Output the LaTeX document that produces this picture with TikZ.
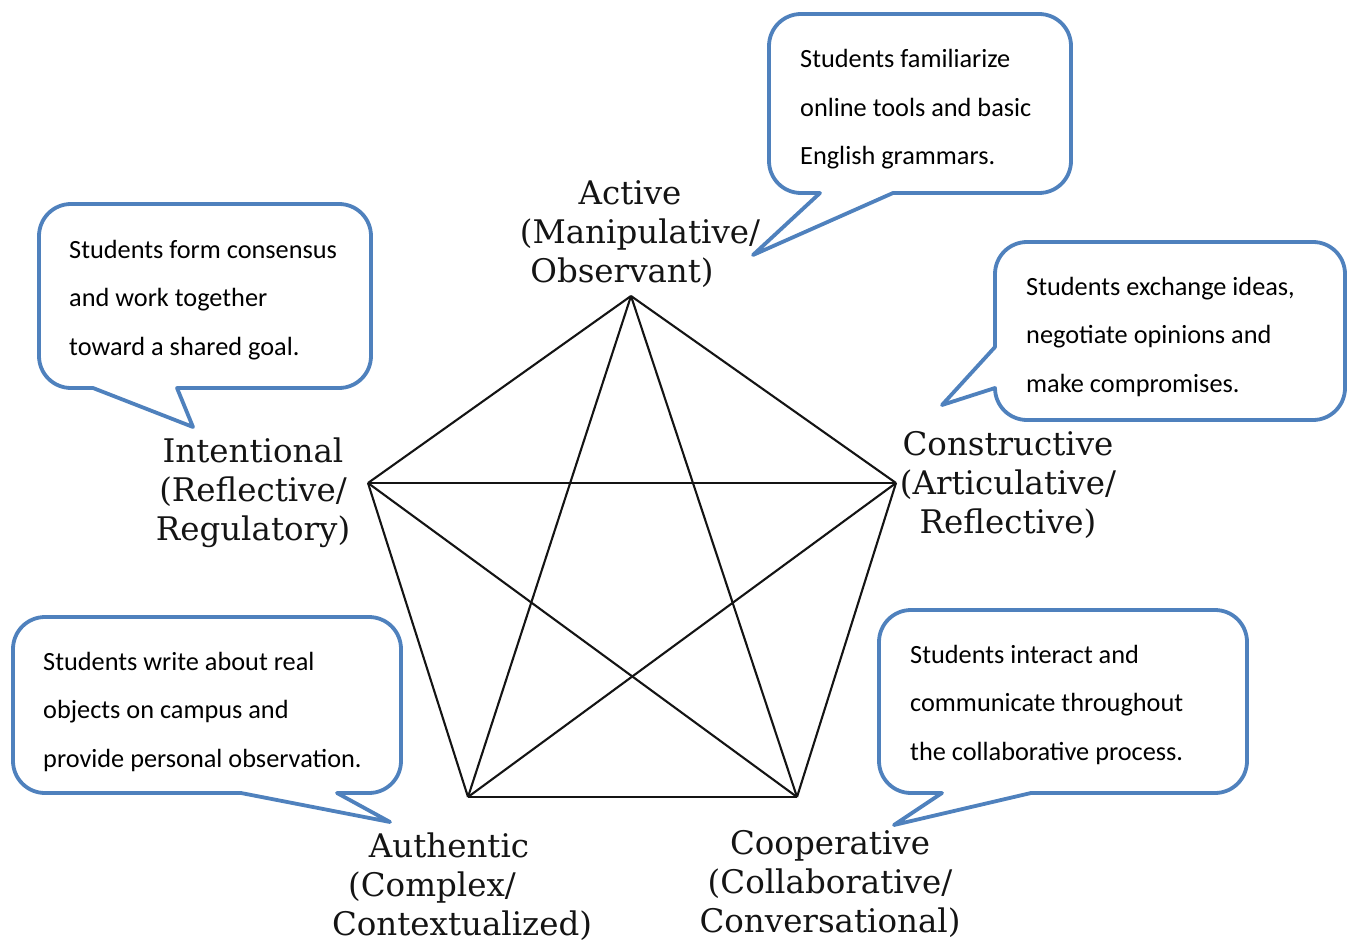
\documentclass[tikz,border=0pt]{standalone}
\usepackage{fontspec}
\setmainfont{Carlito}
\newfontfamily\slabfont{DejaVu Serif}
\definecolor{bubbleblue}{RGB}{79,129,189}
\begin{document}
\begin{tikzpicture}[x=1pt,y=-1pt,
  bubble/.style={draw=bubbleblue, line width=3.8pt, fill=white, line join=round},
  % multi-line nodes: the base anchor sits on the last line
  note/.style={anchor=base west, align=left, inner sep=0pt,
    font=\fontsize{26.3}{48.5}\selectfont},
  vlabel/.style={anchor=base, align=center, inner sep=0pt, text=black!92,
    font=\slabfont\fontsize{32.5}{39}\selectfont},
  link/.style={line width=2.1pt, black!92}]
\useasboundingbox (0,0) rectangle (1357,944);

% five corners of the pentagon
\coordinate (act) at (631,296);
\coordinate (int) at (368,483);
\coordinate (con) at (896,483);
\coordinate (aut) at (468,797);
\coordinate (coo) at (797,797);

% every pair of corners is joined (outline and star)
\foreach \a/\b in {act/int, act/con, act/aut, act/coo, int/con,
                   int/aut, int/coo, con/aut, con/coo, aut/coo}
  \draw[link] (\a) -- (\b);

% corner captions
\node[vlabel] (lact) at (630,282)
  {Active\\\hspace*{20pt}(Manipulative/\\Observant)\hspace*{16pt}};
\node[vlabel] (lint) at (253,540) {Intentional\\(Reflective/\\Regulatory)};
\node[vlabel] (lcon) at (1008,533) {Constructive\\(Articulative/\\Reflective)};
\node[vlabel] (laut) at (449,935)
  {Authentic\\(Complex/\makebox[34pt]{}\\\hspace*{26pt}Contextualized)};
\node[vlabel] (lcoo) at (830,932) {Cooperative\\(Collaborative/\\Conversational)};

% speech bubbles
\draw[bubble] (801,193) -- (820,193) -- (753,255) -- (893,193) -- (1039,193)
  .. controls +(17.7,0) and +(0,17.7) .. (1071,161) -- (1071,46)
  .. controls +(0,-17.7) and +(17.7,0) .. (1039,14) -- (801,14)
  .. controls +(-17.7,0) and +(0,-17.7) .. (769,46) -- (769,161)
  .. controls +(0,17.7) and +(-17.7,0) .. (801,193) -- cycle;

\draw[bubble] (71,388) -- (93,388) -- (193,427) -- (177,388) -- (339,388)
  .. controls +(17.7,0) and +(0,17.7) .. (371,356) -- (371,236)
  .. controls +(0,-17.7) and +(17.7,0) .. (339,204) -- (71,204)
  .. controls +(-17.7,0) and +(0,-17.7) .. (39,236) -- (39,356)
  .. controls +(0,17.7) and +(-17.7,0) .. (71,388) -- cycle;

\draw[bubble] (1027,420) -- (1313,420)
  .. controls +(17.7,0) and +(0,17.7) .. (1345,388) -- (1345,274)
  .. controls +(0,-17.7) and +(17.7,0) .. (1313,242) -- (1027,242)
  .. controls +(-17.7,0) and +(0,-17.7) .. (995,274) -- (995,347)
  -- (942,405) -- (995,388)
  .. controls +(0,17.7) and +(-17.7,0) .. (1027,420) -- cycle;

\draw[bubble] (45,793) -- (241,793) -- (390,822) -- (337,793) -- (369,793)
  .. controls +(17.7,0) and +(0,17.7) .. (401,761) -- (401,649)
  .. controls +(0,-17.7) and +(17.7,0) .. (369,617) -- (45,617)
  .. controls +(-17.7,0) and +(0,-17.7) .. (13,649) -- (13,761)
  .. controls +(0,17.7) and +(-17.7,0) .. (45,793) -- cycle;

\draw[bubble] (911,793) -- (942,793) -- (894,825) -- (1031,793) -- (1215,793)
  .. controls +(17.7,0) and +(0,17.7) .. (1247,761) -- (1247,642)
  .. controls +(0,-17.7) and +(17.7,0) .. (1215,610) -- (911,610)
  .. controls +(-17.7,0) and +(0,-17.7) .. (879,642) -- (879,761)
  .. controls +(0,17.7) and +(-17.7,0) .. (911,793) -- cycle;

% bubble texts
\node[note] (nact) at (800,165)
  {Students familiarize\\online tools and basic\\English grammars.};
\node[note] (nint) at (69,355)
  {Students form consensus\\and work together\\toward a shared goal.};
\node[note] (ncon) at (1026,392)
  {Students exchange ideas,\\negotiate opinions and\\make compromises.};
\node[note] (naut) at (43,767)
  {Students write about real\\objects on campus and\\provide personal observation.};
\node[note] (ncoo) at (910,760)
  {Students interact and\\communicate throughout\\the collaborative process.};
\end{tikzpicture}
\end{document}
